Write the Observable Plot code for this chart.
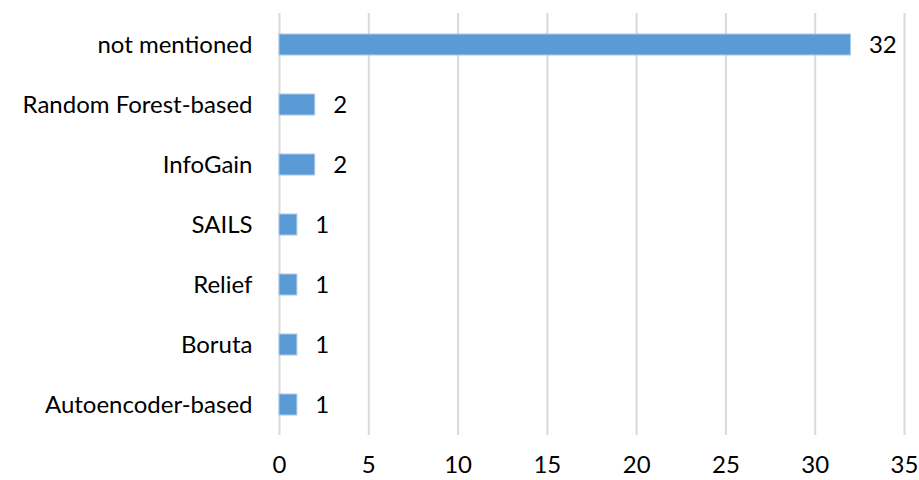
<!DOCTYPE html>
<html>
<head>
<meta charset="utf-8">
<script src="https://cdn.jsdelivr.net/npm/d3@7"></script>
<script src="https://cdn.jsdelivr.net/npm/@observablehq/plot@0.6"></script>
<style>
  html, body { margin: 0; padding: 0; background: #fff; }
  svg { font-family: Lato, "Open Sans", sans-serif; }
</style>
</head>
<body>
<div id="chart"></div>
<script>
const categories = ["not mentioned", "Random Forest-based", "InfoGain", "SAILS", "Relief", "Boruta", "Autoencoder-based"];
const counts = [32, 2, 2, 1, 1, 1, 1];
const xTicks = [0, 5, 10, 15, 20, 25, 30, 35];

const data = categories.map((c, i) => ({category: c, count: counts[i]}));

const chart = Plot.plot({
  width: 919,
  height: 480,
  marginLeft: 279,
  marginRight: 15,
  marginTop: 13,
  marginBottom: 45,
  style: {fontSize: "24px", fontFamily: "Lato, 'Open Sans', sans-serif", color: "#000", background: "#fff"},
  x: {domain: [0, 35], ticks: xTicks, label: null},
  y: {domain: categories, paddingInner: 0.65, paddingOuter: 0.325, label: null},
  marks: [
    Plot.gridX(xTicks, {stroke: "#d9d9d9", strokeWidth: 2, strokeOpacity: 1}),
    Plot.axisX({ticks: xTicks, tickSize: 0, tickPadding: 20, fontSize: 24, label: null}),
    Plot.axisY({tickSize: 0, tickPadding: 27, fontSize: 24, label: null}),
    Plot.barX(data, {x: "count", y: "category", fill: "#5b9bd5", stroke: "#a9c8ea", strokeWidth: 1}),
    Plot.text(data, {x: "count", y: "category", text: d => String(d.count), textAnchor: "start", dx: 18, fontSize: 24, fill: "#000"})
  ]
});
document.getElementById("chart").appendChild(chart);
</script>
</body>
</html>
